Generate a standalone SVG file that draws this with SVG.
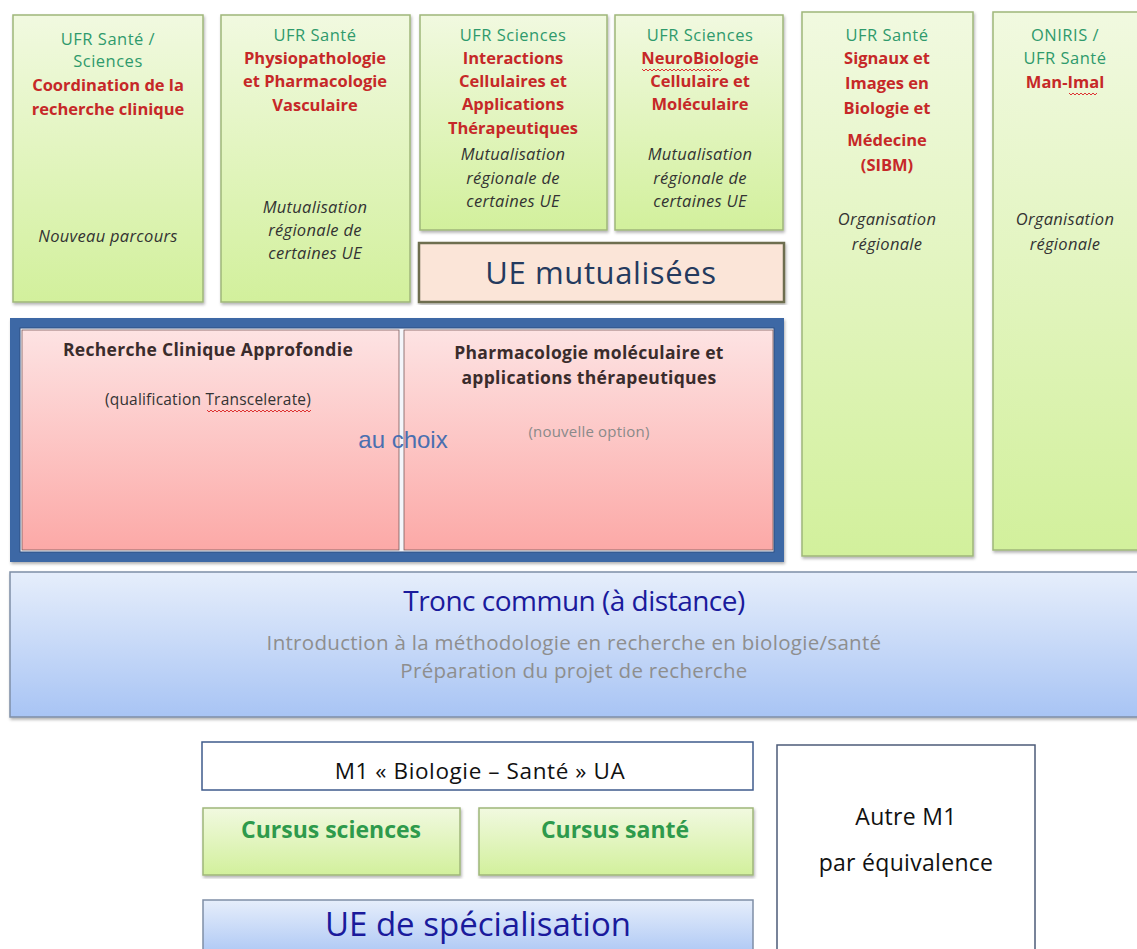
<svg xmlns="http://www.w3.org/2000/svg" width="1137" height="949" viewBox="0 0 1137 949">
<defs>
<linearGradient id="gGreen" x1="0" y1="0" x2="0" y2="1"><stop offset="0" stop-color="#f1f9e0"/><stop offset="1" stop-color="#d2f09c"/></linearGradient>
<linearGradient id="gPink" x1="0" y1="0" x2="0" y2="1"><stop offset="0" stop-color="#fde3e3"/><stop offset="1" stop-color="#fca9a7"/></linearGradient>
<linearGradient id="gBlue" x1="0" y1="0" x2="0" y2="1"><stop offset="0" stop-color="#e6eefb"/><stop offset="1" stop-color="#a8c4f4"/></linearGradient>
<filter id="sh" x="-5%" y="-5%" width="110%" height="110%"><feDropShadow dx="1" dy="2" stdDeviation="1.5" flood-color="#000" flood-opacity="0.3"/></filter>
</defs>
<style>
.gbox{fill:url(#gGreen);stroke:#9fb67a;stroke-width:1.5;filter:url(#sh)}
.t{font-family:"Open Sans","Liberation Sans",sans-serif;text-anchor:middle}
.org{font-size:16.5px;fill:#2f9a6c;letter-spacing:0.5px}
.ttl{font-size:16.5px;font-weight:bold;fill:#c62828}
.it{font-size:16.5px;font-style:italic;fill:#333;letter-spacing:0.3px}
.dk{font-size:17.5px;font-weight:bold;fill:#3a2c2c;letter-spacing:0.3px}
.sq{fill:none;stroke:#d33;stroke-width:1}
</style>
<rect width="1137" height="949" fill="#fff"/>

<g id="n1">
<rect class="gbox" x="13" y="15" width="190" height="287"/>
<text class="t org" x="108" y="45">UFR Santé /</text>
<text class="t org" x="108" y="67">Sciences</text>
<text class="t ttl" x="108" y="91">Coordination de la</text>
<text class="t ttl" x="108" y="115">recherche clinique</text>
<text class="t it" x="108" y="242">Nouveau parcours</text>
</g>
<g id="n2">
<rect class="gbox" x="221" y="15" width="189" height="287"/>
<text class="t org" x="315" y="41">UFR Santé</text>
<text class="t ttl" x="315" y="64">Physiopathologie</text>
<text class="t ttl" x="315" y="87">et Pharmacologie</text>
<text class="t ttl" x="315" y="111">Vasculaire</text>
<text class="t it" x="315" y="213">Mutualisation</text>
<text class="t it" x="315" y="236">régionale de</text>
<text class="t it" x="315" y="259">certaines  UE</text>
</g>
<g id="n3">
<rect class="gbox" x="420" y="15" width="187" height="215"/>
<text class="t org" x="513" y="41">UFR Sciences</text>
<text class="t ttl" x="513" y="64">Interactions</text>
<text class="t ttl" x="513" y="87">Cellulaires et</text>
<text class="t ttl" x="513" y="110">Applications</text>
<text class="t ttl" x="513" y="134">Thérapeutiques</text>
<text class="t it" x="513" y="160">Mutualisation</text>
<text class="t it" x="513" y="184">régionale de</text>
<text class="t it" x="513" y="207">certaines  UE</text>
</g>
<g id="n4">
<rect class="gbox" x="615" y="15" width="168" height="215"/>
<text class="t org" x="700" y="41">UFR Sciences</text>
<text class="t ttl" x="700" y="64">NeuroBiologie</text>
<path class="sq" d="M642 69 l2 2 l2 -2 l2 2 l2 -2 l2 2 l2 -2 l2 2 l2 -2 l2 2 l2 -2 l2 2 l2 -2 l2 2 l2 -2 l2 2 l2 -2 l2 2 l2 -2 l2 2 l2 -2 l2 2 l2 -2 l2 2 l2 -2 l2 2 l2 -2 l2 2 l2 -2 l2 2 l2 -2 l2 2 l2 -2 l2 2 l2 -2 l2 2 l2 -2 l2 2 l2 -2 l2 2 l2 -2"/>
<text class="t ttl" x="700" y="87">Cellulaire et</text>
<text class="t ttl" x="700" y="110">Moléculaire</text>
<text class="t it" x="700" y="160">Mutualisation</text>
<text class="t it" x="700" y="184">régionale de</text>
<text class="t it" x="700" y="207">certaines  UE</text>
</g>
<g id="n5">
<rect class="gbox" x="419" y="243" width="365" height="59" style="fill:#fbe5d8;stroke:#6e6e50;stroke-width:2.5"/>
<text class="t" x="601" y="284" style="font-size:31px;fill:#243a5e;letter-spacing:0.6px">UE mutualisées</text>
</g>
<g id="n6">
<rect class="gbox" x="802" y="12" width="171" height="544"/>
<text class="t org" x="887" y="41">UFR Santé</text>
<text class="t ttl" x="887" y="64">Signaux et</text>
<text class="t ttl" x="887" y="89">Images en</text>
<text class="t ttl" x="887" y="114">Biologie et</text>
<text class="t ttl" x="887" y="146">Médecine</text>
<text class="t ttl" x="887" y="171">(SIBM)</text>
<text class="t it" x="887" y="225">Organisation</text>
<text class="t it" x="887" y="250">régionale</text>
</g>
<g id="n7">
<rect class="gbox" x="993" y="12" width="150" height="538"/>
<text class="t org" x="1065" y="41">ONIRIS /</text>
<text class="t org" x="1065" y="64">UFR Santé</text>
<text class="t ttl" x="1065" y="88">Man-Imal</text>
<path class="sq" d="M1069 93 l2 2 l2 -2 l2 2 l2 -2 l2 2 l2 -2 l2 2 l2 -2 l2 2 l2 -2 l2 2 l2 -2 l2 2 l2 -2"/>
<text class="t it" x="1065" y="225">Organisation</text>
<text class="t it" x="1065" y="250">régionale</text>
</g>

<g id="n8">
<rect x="15" y="323" width="764" height="234" fill="#f4f6fb" stroke="#3d67a5" stroke-width="10" filter="url(#sh)"/>
<rect x="20" y="328" width="754" height="224" fill="none" stroke="#2e4f82" stroke-width="1"/>
</g>
<g id="n9">
<rect x="22" y="330" width="377" height="220" fill="url(#gPink)" stroke="#7a5a5a" stroke-width="0.8"/>
<text class="t dk" x="208" y="356">Recherche Clinique  Approfondie</text>
<text class="t" x="208" y="405" style="font-size:15.5px;fill:#333;letter-spacing:0.2px">(qualification Transcelerate)</text>
<path class="sq" d="M207 410 l2 2 l2 -2 l2 2 l2 -2 l2 2 l2 -2 l2 2 l2 -2 l2 2 l2 -2 l2 2 l2 -2 l2 2 l2 -2 l2 2 l2 -2 l2 2 l2 -2 l2 2 l2 -2 l2 2 l2 -2 l2 2 l2 -2 l2 2 l2 -2 l2 2 l2 -2 l2 2 l2 -2 l2 2 l2 -2 l2 2 l2 -2 l2 2 l2 -2 l2 2 l2 -2 l2 2 l2 -2 l2 2 l2 -2 l2 2 l2 -2 l2 2 l2 -2 l2 2 l2 -2 l2 2 l2 -2 l2 2 l2 -2"/>
</g>
<g id="n10">
<rect x="404" y="330" width="369" height="220" fill="url(#gPink)" stroke="#7a5a5a" stroke-width="0.8"/>
<text class="t dk" x="589" y="359">Pharmacologie  moléculaire  et</text>
<text class="t dk" x="589" y="384">applications  thérapeutiques</text>
<text class="t" x="589" y="437" style="font-size:15px;fill:#8a8a8a;letter-spacing:0.2px">(nouvelle option)</text>
</g>
<g id="n11">
<text x="403" y="448" style="font-family:'Liberation Sans',Arial,sans-serif;font-size:24px;fill:#4a6fb0;text-anchor:middle">au choix</text>
</g>

<g id="n12">
<rect x="10" y="572" width="1135" height="145" fill="url(#gBlue)" stroke="#7f8ea6" stroke-width="1.5" filter="url(#sh)"/>
<text class="t" x="574" y="611" style="font-size:28px;fill:#1a1a9c;letter-spacing:-0.5px">Tronc commun (à distance)</text>
<text class="t" x="574" y="650" style="font-size:20.5px;fill:#8e8e8e;letter-spacing:0.3px">Introduction à la méthodologie en  recherche en biologie/santé</text>
<text class="t" x="574" y="678" style="font-size:20.5px;fill:#8e8e8e;letter-spacing:0.3px">Préparation du projet de recherche</text>
</g>

<g id="n13">
<rect x="202" y="742" width="551" height="48" fill="#fff" stroke="#3f5b8c" stroke-width="1.5"/>
<text class="t" x="480" y="779" style="font-size:22.5px;fill:#111;letter-spacing:0.6px">M1 « Biologie – Santé  » UA</text>
</g>
<g id="n14">
<rect class="gbox" x="203" y="808" width="257" height="67"/>
<text class="t" x="331" y="838" style="font-size:23px;font-weight:bold;fill:#2e9a4c">Cursus sciences</text>
</g>
<g id="n15">
<rect class="gbox" x="479" y="808" width="274" height="67"/>
<text class="t" x="615" y="838" style="font-size:23px;font-weight:bold;fill:#2e9a4c">Cursus santé</text>
</g>
<g id="n16">
<rect x="203" y="900" width="550" height="60" fill="url(#gBlue)" stroke="#7f8ea6" stroke-width="1.5"/>
<text class="t" x="478" y="936" style="font-size:33px;fill:#1a1a9c">UE de spécialisation</text>
</g>
<g id="n17">
<rect x="777" y="745" width="258" height="215" fill="#fff" stroke="#4c5b78" stroke-width="1.5"/>
<text class="t" x="906" y="825" style="font-size:23px;fill:#111;letter-spacing:0.3px">Autre M1</text>
<text class="t" x="906" y="871" style="font-size:23px;fill:#111;letter-spacing:0.3px">par équivalence</text>
</g>
<g id="connectors"></g>
</svg>
